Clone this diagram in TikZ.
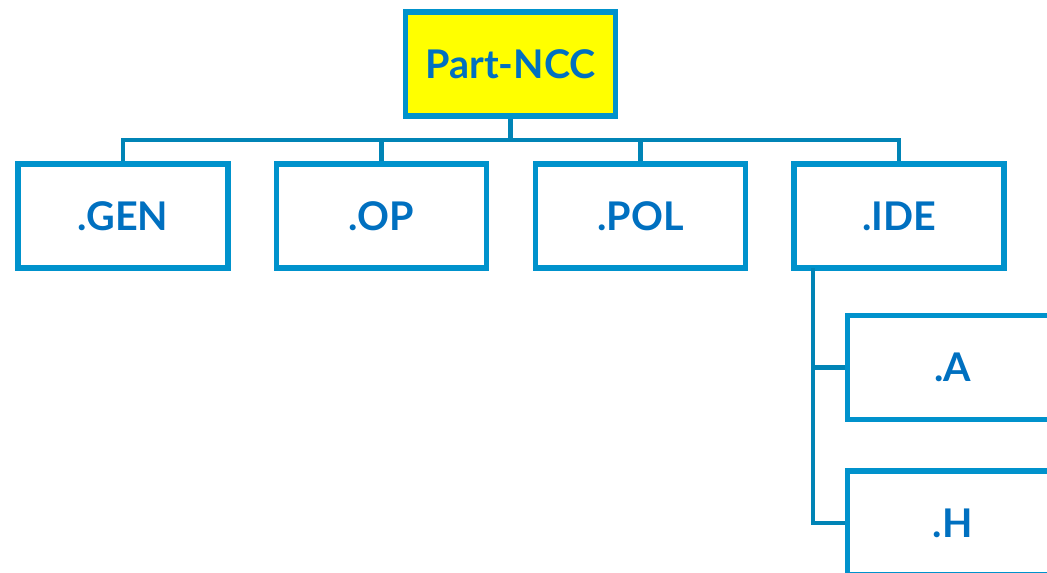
\documentclass[tikz,border=0pt]{standalone}
\usepackage{fontspec}
\setmainfont{Lato}[BoldFont={Lato Bold}]
\definecolor{boxline}{RGB}{0,146,204}
\definecolor{wire}{RGB}{0,132,182}
\definecolor{boxtext}{RGB}{0,112,192}
\definecolor{topfill}{RGB}{255,255,0}

\begin{document}
\begin{tikzpicture}[x=0.02cm,y=-0.02cm,
    every node/.style={draw=boxline,line width=3pt,fill=white,rectangle,
        minimum width=4.2cm,minimum height=2.08cm,inner sep=0pt,
        text=boxtext,font=\fontsize{22.5}{26}\selectfont\bfseries},
    wire/.style={draw=wire,line width=2.3pt}]
            \useasboundingbox (0,0) rectangle (1047,572);
            \clip (0,0) rectangle (1047,572);
            %
            \node[fill=topfill] (p) at (510.5,64) {Part-NCC};
            \node (g) at (123,216) {.GEN};
            \node (o) at (381.5,216) {.OP};
            \node (l) at (640.5,216) {.POL};
            \node (i) at (899,216) {.IDE};
            \node (a) at (952.5,367.5) {.A};
            \node (h) at (952.5,523) {.H};
            %
            \coordinate (bus) at (510.5,140);
            \coordinate (t) at (813,268);
            \draw[wire] (p.south)--(bus);
            \draw[wire] (g.north) |- (bus);
            \draw[wire] (o.north) |- (bus);
            \draw[wire] (l.north) |- (bus);
            \draw[wire] (i.north) |- (bus);
            \draw[wire] (t) |- (a.west);
            \draw[wire] (t) |- (h.west);
        \end{tikzpicture}
\end{document}
